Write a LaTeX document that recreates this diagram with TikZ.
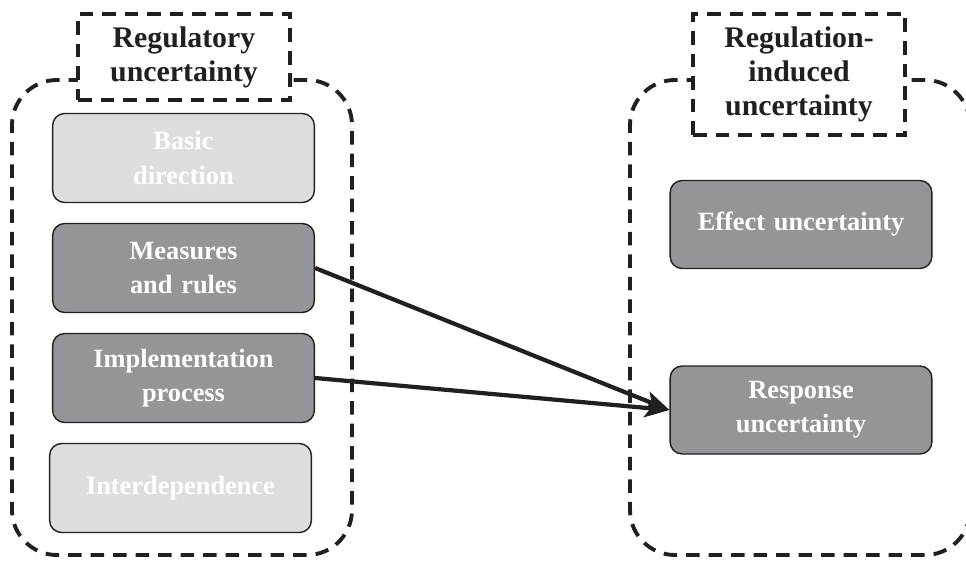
\documentclass[tikz,border=0pt]{standalone}
\usepackage{fontspec}
\setmainfont{Liberation Serif}
\usepackage{tikz}
\usetikzlibrary{arrows.meta}
\definecolor{lightbox}{RGB}{220,221,223}
\definecolor{darkbox}{RGB}{147,149,152}
\definecolor{edge}{RGB}{35,31,32}
\tikzstyle{group} = [rectangle, draw=edge, line width=2.2pt, dash pattern=on 0.27cm off 0.18cm,
    rounded corners=0.9cm, inner sep=0pt]
\tikzstyle{tag} = [rectangle, draw=edge, fill=white, line width=2.2pt, dash pattern=on 0.27cm off 0.18cm,
    text width=4.24cm, align=center, inner sep=0pt, font=\bfseries\fontsize{17}{19.5}\selectfont, text=edge]
\tikzstyle{block} = [rectangle, draw=edge, line width=0.8pt, rounded corners=0.24cm,
    minimum width=5.14cm, minimum height=1.78cm, text width=5cm, align=center,
    font=\bfseries\fontsize{15}{19.5}\selectfont, text=white]
\tikzstyle{faint} = [block, fill=lightbox]
\tikzstyle{strong} = [block, fill=darkbox]
\tikzstyle{line} = [draw=edge, line width=2.4pt, -{Stealth[length=5mm,width=3.8mm,inset=1.2mm]}]

\begin{document}
\begin{tikzpicture}[node distance = 2.2cm, auto]
    \useasboundingbox (0,0) rectangle (19.32,-11.32);
    % Place groups
    \node [group, minimum width=6.8cm, minimum height=9.5cm] (regGroup) at (3.64,-6.35) {};
    \node [group, minimum width=6.8cm, minimum height=9.5cm] (indGroup) at (16.0,-6.35) {};
    \node [tag, minimum height=1.72cm] (regTag) at (3.68,-1.14) {Regulatory\\uncertainty};
    \node [tag, minimum height=2.42cm] (indTag) at (15.98,-1.49) {Regulation-\\induced\\uncertainty};
    % Place nodes
    \node [faint] (basic) at (3.67,-3.16) {Basic\\direction};
    \node [strong, below of=basic] (measures) {Measures\\and rules};
    \node [strong, below of=measures] (implement) {Implementation\\process};
    \node [faint, below of=implement, xshift=-0.06cm] (interdep) {Interdependence};
    \node [strong, minimum width=5.08cm, minimum height=1.76cm] (effect) at (16.02,-4.49) {Effect uncertainty};
    \node [strong, minimum width=5.08cm, minimum height=1.76cm] (response) at (16.02,-8.2) {Response\\uncertainty};
    % Draw edges
    \path [line] (measures.east) -- (response.west);
    \path [line] (implement.east) -- (response.west);
\end{tikzpicture}
\end{document}
